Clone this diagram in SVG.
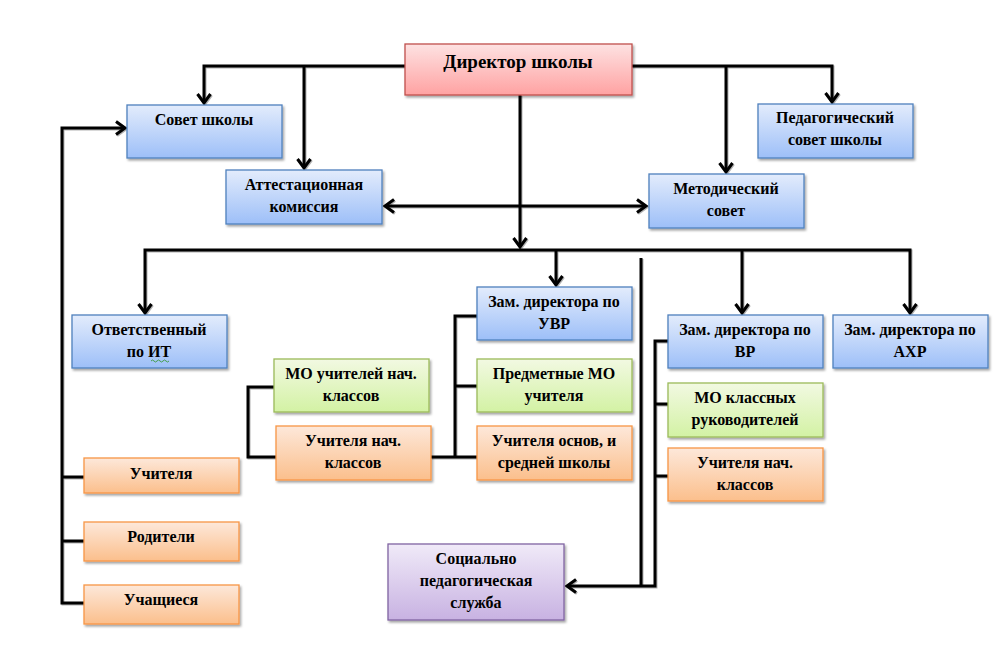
<svg xmlns="http://www.w3.org/2000/svg" width="1004" height="658" viewBox="0 0 1004 658">
<defs>
<linearGradient id="gBlue" x1="0" y1="0" x2="0" y2="1"><stop offset="0" stop-color="#e3ecfc"/><stop offset="1" stop-color="#9dbff8"/></linearGradient>
<linearGradient id="gRed" x1="0" y1="0" x2="0" y2="1"><stop offset="0" stop-color="#fde2e2"/><stop offset="1" stop-color="#ffa2a2"/></linearGradient>
<linearGradient id="gGreen" x1="0" y1="0" x2="0" y2="1"><stop offset="0" stop-color="#f2f9e2"/><stop offset="1" stop-color="#d3f2a4"/></linearGradient>
<linearGradient id="gOrange" x1="0" y1="0" x2="0" y2="1"><stop offset="0" stop-color="#fde8da"/><stop offset="1" stop-color="#fbbf8c"/></linearGradient>
<linearGradient id="gPurple" x1="0" y1="0" x2="0" y2="1"><stop offset="0" stop-color="#f0eaf8"/><stop offset="1" stop-color="#c8b2e2"/></linearGradient>
<filter id="sh" x="-10%" y="-10%" width="130%" height="140%"><feDropShadow dx="1.5" dy="2" stdDeviation="1" flood-color="#000" flood-opacity="0.35"/></filter>
<filter id="lsh" x="-5%" y="-5%" width="110%" height="110%"><feDropShadow dx="1" dy="1" stdDeviation="0.6" flood-color="#000" flood-opacity="0.3"/></filter>
<marker id="arr" markerUnits="userSpaceOnUse" markerWidth="16" markerHeight="16" viewBox="-12 -8 16 16" refX="0" refY="0" orient="auto-start-reverse">
<path d="M-9,-6.5 L0,0 L-9,6.5" fill="none" stroke="#000" stroke-width="3"/>
</marker>
</defs>
<style>
.b{filter:url(#sh);stroke-width:1.3}
.blue{fill:url(#gBlue);stroke:#4f81bd}
.red{fill:url(#gRed);stroke:#c0504d}
.green{fill:url(#gGreen);stroke:#9bbb59}
.orange{fill:url(#gOrange);stroke:#f79646}
.purple{fill:url(#gPurple);stroke:#8064a2}
.t text{font-weight:bold;font-size:16px;fill:#000;text-anchor:middle}
.c{fill:none;stroke:#000;stroke-width:3}
</style>
<rect width="1004" height="658" fill="#fff"/>
<g id="connectors" filter="url(#lsh)">
<path class="c" d="M405,66 H204 V103" marker-end="url(#arr)"/>
<path class="c" d="M304,66 V168" marker-end="url(#arr)"/>
<path class="c" d="M632,66 H832 V102" marker-end="url(#arr)"/>
<path class="c" d="M726,66 V172" marker-end="url(#arr)"/>
<path class="c" d="M520,95 V247" marker-end="url(#arr)"/>
<path class="c" d="M385,206 H646" marker-start="url(#arr)" marker-end="url(#arr)"/>
<path class="c" d="M145,313 V250 H910 V313" marker-start="url(#arr)" marker-end="url(#arr)"/>
<path class="c" d="M556,250 V285" marker-end="url(#arr)"/>
<path class="c" d="M742,250 V313" marker-end="url(#arr)"/>
<path class="c" d="M641,258 V586"/>
<path class="c" d="M668,341 H655 V586 H567" marker-end="url(#arr)"/>
<path class="c" d="M655,404 H668 M655,476 H668"/>
<path class="c" d="M477,316 H455 V457 M455,386 H477 M431,457 H477"/>
<path class="c" d="M274,387 H248 V457 H276"/>
<path class="c" d="M84,603 H62 V128 H125" marker-end="url(#arr)"/>
<path class="c" d="M62,477 H84 M62,541 H84"/>
</g>
<g class="t" font-family="Liberation Serif, DejaVu Serif, serif">
<g id="director"><rect class="b red" x="405" y="44" width="227" height="51"/><text x="518" y="68" style="font-size:19px">Директор школы</text></g>
<g id="sovet"><rect class="b blue" x="127" y="105" width="155" height="53"/><text x="204" y="125">Совет школы</text></g>
<g id="attest"><rect class="b blue" x="226" y="170" width="156" height="54"/><text x="304" y="190">Аттестационная</text><text x="304" y="212">комиссия</text></g>
<g id="metod"><rect class="b blue" x="649" y="174" width="155" height="54"/><text x="726" y="194">Методический</text><text x="726" y="216">совет</text></g>
<g id="pedsovet"><rect class="b blue" x="758" y="104" width="155" height="54"/><text x="835" y="123">Педагогический</text><text x="835" y="145">совет школы</text></g>
<g id="otv"><rect class="b blue" x="72" y="315" width="155" height="53"/><text x="149" y="335">Ответственный</text><text x="149" y="357">по ИТ</text><path d="M151,361 q1.5,-2 3,0 t3,0 t3,0 t3,0 t3,0 t3,0" fill="none" stroke="#3a9a3a" stroke-width="0.9"/></g>
<g id="zamuvr"><rect class="b blue" x="477" y="287" width="155" height="53"/><text x="554" y="307">Зам. директора по</text><text x="554" y="329">УВР</text></g>
<g id="predmo"><rect class="b green" x="477" y="359" width="155" height="53"/><text x="554" y="379">Предметные МО</text><text x="554" y="401">учителя</text></g>
<g id="uchosn"><rect class="b orange" x="477" y="426" width="155" height="54"/><text x="554" y="446">Учителя основ, и</text><text x="554" y="468">средней школы</text></g>
<g id="monach"><rect class="b green" x="274" y="359" width="155" height="53"/><text x="351" y="379">МО учителей нач.</text><text x="351" y="401">классов</text></g>
<g id="uchnach1"><rect class="b orange" x="276" y="426" width="155" height="54"/><text x="353" y="446">Учителя нач.</text><text x="353" y="468">классов</text></g>
<g id="zamvr"><rect class="b blue" x="668" y="315" width="155" height="53"/><text x="745" y="335">Зам. директора по</text><text x="745" y="357">ВР</text></g>
<g id="mokl"><rect class="b green" x="668" y="383" width="155" height="54"/><text x="745" y="403">МО классных</text><text x="745" y="425">руководителей</text></g>
<g id="uchnach2"><rect class="b orange" x="668" y="448" width="155" height="53"/><text x="745" y="468">Учителя нач.</text><text x="745" y="490">классов</text></g>
<g id="zamahr"><rect class="b blue" x="833" y="315" width="155" height="53"/><text x="910" y="335">Зам. директора по</text><text x="910" y="357">АХР</text></g>
<g id="uchitelya"><rect class="b orange" x="84" y="458" width="155" height="35"/><text x="161" y="479">Учителя</text></g>
<g id="roditeli"><rect class="b orange" x="84" y="522" width="155" height="39"/><text x="161" y="542">Родители</text></g>
<g id="uchaschiesya"><rect class="b orange" x="84" y="585" width="155" height="39"/><text x="161" y="605">Учащиеся</text></g>
<g id="social"><rect class="b purple" x="388" y="544" width="176" height="76"/><text x="476" y="564">Социально</text><text x="476" y="586">педагогическая</text><text x="476" y="608">служба</text></g>
</g>
</svg>
